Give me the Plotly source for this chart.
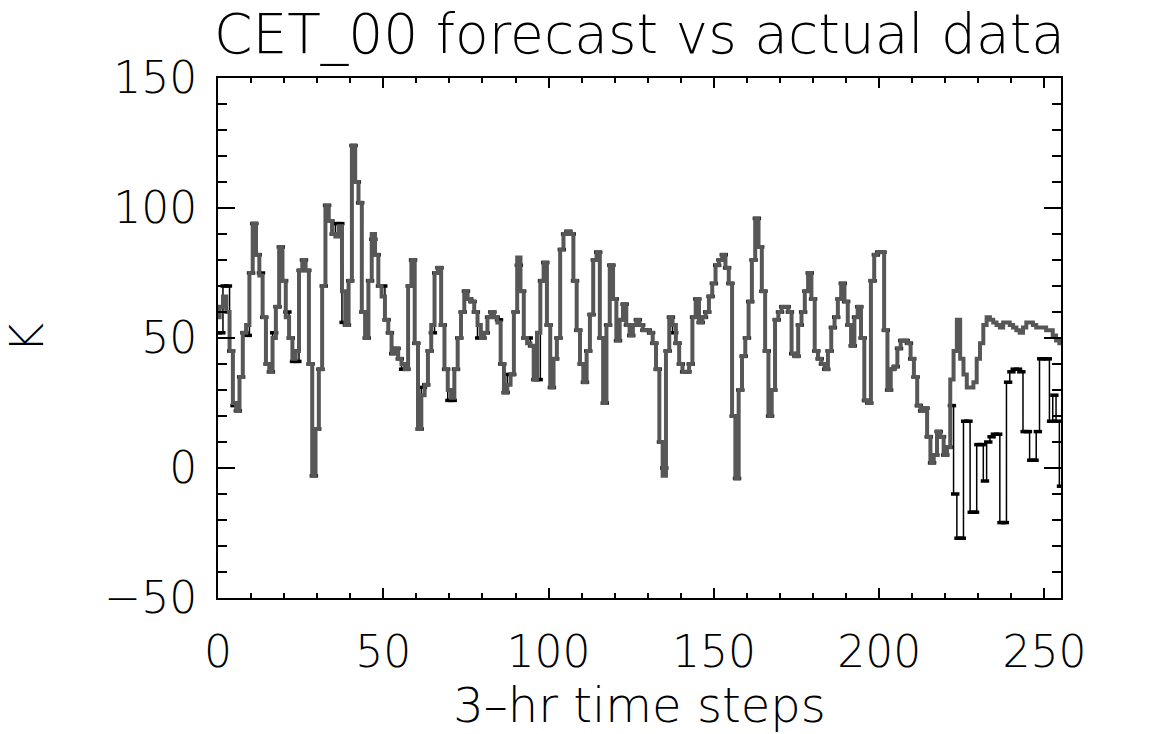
import plotly.graph_objects as go

steps = list(range(256))

forecast = [58, 62, 66, 60, 45, 25, 22, 35, 52, 55,
            75, 94, 82, 74, 58, 40, 37, 50, 62, 85,
            72, 58, 50, 42, 45, 76, 80, 76, 40, -3,
            15, 38, 70, 101, 95, 90, 89, 93, 68, 55,
            72, 124, 110, 102, 60, 50, 72, 90, 82, 70,
            66, 57, 52, 44, 46, 42, 40, 38, 70, 80,
            48, 15, 28, 32, 45, 55, 75, 77, 55, 38,
            30, 27, 38, 50, 60, 68, 65, 64, 60, 55,
            50, 52, 58, 60, 58, 56, 40, 29, 32, 36,
            60, 81, 68, 50, 48, 47, 34, 52, 72, 79,
            55, 31, 42, 50, 84, 90, 91, 90, 72, 53,
            40, 33, 45, 59, 80, 83, 50, 25, 55, 78,
            65, 49, 57, 63, 55, 51, 55, 57, 55, 53,
            53, 52, 48, 38, 10, -3, 45, 58, 55, 48,
            40, 37, 37, 40, 58, 65, 56, 58, 60, 66,
            71, 78, 80, 82, 77, 71, 20, -4, 30, 43,
            50, 64, 80, 96, 85, 68, 45, 20, 30, 57,
            60, 62, 62, 60, 44, 43, 55, 60, 68, 75,
            65, 45, 42, 40, 38, 45, 54, 58, 65, 71,
            64, 55, 47, 58, 62, 50, 26, 25, 72, 82,
            83, 83, 53, 30, 38, 39, 46, 49, 49, 48,
            42, 35, 24, 22, 23, 12, 2, 5, 14, 12,
            5, 8, 34, 45, 57, 42, 36, 31, 31, 33,
            42, 48, 55, 58, 57, 56, 55, 54, 56, 56,
            55, 54, 53, 52, 54, 56, 56, 55, 54, 54,
            54, 53, 53, 51, 49, 48]

actual = [52, 52, 70, 70, 45, 24, 22, 35, 52, 51,
          75, 94, 82, 75, 58, 40, 37, 52, 62, 85,
          72, 60, 50, 41, 41, 76, 80, 76, 40, -3,
          15, 38, 70, 101, 95, 90, 94, 94, 56, 55,
          72, 124, 110, 102, 60, 50, 72, 88, 82, 70,
          70, 57, 52, 44, 46, 42, 38, 38, 70, 80,
          48, 15, 31, 32, 45, 52, 75, 77, 55, 38,
          26, 26, 38, 50, 60, 68, 65, 64, 60, 50,
          50, 52, 58, 60, 58, 57, 40, 29, 36, 36,
          60, 78, 68, 50, 50, 47, 34, 34, 72, 79,
          55, 31, 42, 50, 84, 90, 91, 90, 72, 53,
          40, 33, 45, 59, 80, 83, 50, 25, 55, 78,
          65, 49, 57, 63, 55, 51, 55, 57, 55, 53,
          53, 52, 48, 38, 10, 0, 45, 58, 52, 48,
          40, 37, 37, 40, 58, 65, 56, 58, 60, 66,
          71, 78, 80, 82, 77, 71, 20, -4, 30, 43,
          50, 64, 80, 96, 85, 68, 45, 20, 30, 57,
          60, 62, 62, 60, 44, 43, 55, 60, 68, 75,
          65, 45, 42, 40, 38, 45, 54, 58, 65, 71,
          64, 55, 47, 58, 62, 50, 26, 25, 72, 82,
          83, 83, 53, 30, 38, 39, 46, 49, 49, 48,
          42, 35, 24, 22, 23, 12, 2, 5, 14, 12,
          5, 8, 24, -10, -27, -27, 18, 18, -17, -17,
          9, 9, -5, 10, 12, 13, 13, -21, -21, 33,
          37, 38, 38, 37, 14, 14, 3, 3, 14, 42,
          42, 42, 18, 28, 18, -7]

x_ticks = [0, 50, 100, 150, 200, 250]
y_ticks = [-50, 0, 50, 100, 150]

FONT = "DejaVu Sans"
W = 200

fig = go.Figure()
fig.add_trace(go.Scatter(
    x=steps, y=actual, mode="lines+markers",
    line=dict(color="black", width=1.5, shape="hvh"),
    marker=dict(symbol="line-ew", size=6, line=dict(color="black", width=3.5)),
    showlegend=False, name="actual"))
fig.add_trace(go.Scatter(
    x=steps, y=forecast, mode="lines",
    line=dict(color="#575757", width=4, shape="hvh"),
    showlegend=False, name="forecast"))

axis_common = dict(
    showline=True, linecolor="black", linewidth=2, mirror="allticks",
    ticks="inside", tickcolor="black", tickwidth=2,
    showgrid=False, zeroline=False,
    tickfont=dict(family=FONT, size=44, color="black", weight=W),
)

fig.update_xaxes(
    range=[0, 255], tickvals=x_ticks, ticktext=[str(v) for v in x_ticks],
    ticklen=10, ticklabelstandoff=14,
    minor=dict(ticks="inside", dtick=10, tick0=0, ticklen=5, tickcolor="black", tickwidth=2),
    title=dict(text="3\u2013hr time steps", font=dict(family=FONT, size=48, color="black", weight=W), standoff=10),
    **axis_common)
fig.update_yaxes(
    range=[-50, 150], tickvals=y_ticks, ticktext=["\u221250", "0", "50", "100", "150"],
    ticklen=17, ticklabelstandoff=10,
    minor=dict(ticks="inside", dtick=10, tick0=0, ticklen=9, tickcolor="black", tickwidth=2),
    title=dict(text="K", font=dict(family=FONT, size=46, color="black", weight=W), standoff=58),
    **axis_common)

fig.update_layout(
    width=1161, height=734,
    margin=dict(l=218, r=100, t=78, b=136),
    paper_bgcolor="white", plot_bgcolor="white",
    title=dict(text="CET_00 forecast vs actual data", x=0.5, xref="paper", xanchor="center",
               y=0.954, yref="container", yanchor="middle",
               font=dict(family=FONT, size=55, color="black", weight=W)),
)

fig.write_html("out.html")
